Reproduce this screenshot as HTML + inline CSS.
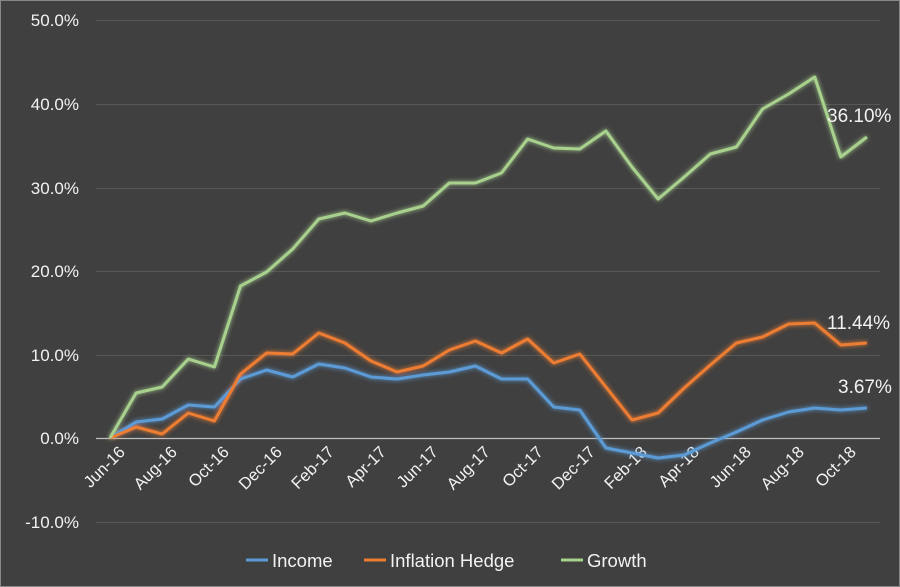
<!DOCTYPE html>
<html><head><meta charset="utf-8"><style>
html,body{margin:0;padding:0;background:#404040;}
svg{display:block;font-family:"Liberation Sans",sans-serif;}
</style></head><body>
<svg width="900" height="587" viewBox="0 0 900 587" xmlns="http://www.w3.org/2000/svg">
<defs>
<filter id="g" x="-5%" y="-10%" width="110%" height="120%"><feGaussianBlur stdDeviation="2.5" in="SourceGraphic" result="b"/><feMerge><feMergeNode in="b"/><feMergeNode in="SourceGraphic"/></feMerge></filter>
</defs>
<rect x="0" y="0" width="900" height="587" fill="#404040"/>
<rect x="0.5" y="0.5" width="899" height="586" fill="none" stroke="#888" stroke-width="1"/>
<g stroke="#575757" stroke-width="1">
<line x1="96" y1="20.5" x2="880" y2="20.5"/>
<line x1="96" y1="104.5" x2="880" y2="104.5"/>
<line x1="96" y1="188.5" x2="880" y2="188.5"/>
<line x1="96" y1="271.5" x2="880" y2="271.5"/>
<line x1="96" y1="355.5" x2="880" y2="355.5"/>
<line x1="96" y1="522.5" x2="880" y2="522.5"/>
</g>
<line x1="96" y1="438.5" x2="880" y2="438.5" stroke="#bfbfbf" stroke-width="1.3"/>
<g fill="#f2f2f2" font-size="17" text-anchor="end">
<text x="79" y="26">50.0%</text>
<text x="79" y="110">40.0%</text>
<text x="79" y="194">30.0%</text>
<text x="79" y="277">20.0%</text>
<text x="79" y="361">10.0%</text>
<text x="79" y="444">0.0%</text>
<text x="79" y="528">-10.0%</text>
</g>
<g fill="#f2f2f2" font-size="16.5" text-anchor="end">
<text transform="translate(126,453) rotate(-45)">Jun-16</text>
<text transform="translate(178,453) rotate(-45)">Aug-16</text>
<text transform="translate(230,453) rotate(-45)">Oct-16</text>
<text transform="translate(283,453) rotate(-45)">Dec-16</text>
<text transform="translate(335,453) rotate(-45)">Feb-17</text>
<text transform="translate(387,453) rotate(-45)">Apr-17</text>
<text transform="translate(439,453) rotate(-45)">Jun-17</text>
<text transform="translate(491,453) rotate(-45)">Aug-17</text>
<text transform="translate(544,453) rotate(-45)">Oct-17</text>
<text transform="translate(596,453) rotate(-45)">Dec-17</text>
<text transform="translate(648,453) rotate(-45)">Feb-18</text>
<text transform="translate(700,453) rotate(-45)">Apr-18</text>
<text transform="translate(752,453) rotate(-45)">Jun-18</text>
<text transform="translate(805,453) rotate(-45)">Aug-18</text>
<text transform="translate(857,453) rotate(-45)">Oct-18</text>
</g>
<g fill="none" stroke-width="3" stroke-linejoin="round" filter="url(#g)">
<polyline stroke="#5b9bd5" points="110,438 136.1,422 162.2,419 188.3,405 214.4,407 240.5,379 266.6,370 292.7,377 318.8,364 344.9,368 371,377 397.1,379 423.2,375 449.3,372 475.4,366 501.5,379 527.6,379 553.7,407 579.8,410 605.9,448 632,453 658.1,458 684.2,455 710.3,443 736.4,432 762.5,420 788.6,412 814.7,408 840.8,410 866.9,408"/>
<polyline stroke="#ed7d31" points="110,438 136.1,427 162.2,434 188.3,413 214.4,421 240.5,374 266.6,353 292.7,354 318.8,333 344.9,343 371,361 397.1,372 423.2,366 449.3,350 475.4,341 501.5,353 527.6,339 553.7,363 579.8,354 605.9,387 632,420 658.1,413 684.2,388 710.3,365 736.4,343 762.5,337 788.6,324 814.7,323 840.8,345 866.9,343"/>
<polyline stroke="#a9d18e" points="110,438 136.1,393 162.2,387 188.3,359 214.4,367 240.5,286 266.6,272 292.7,249 318.8,219 344.9,213 371,221 397.1,213 423.2,206 449.3,183 475.4,183 501.5,173 527.6,139 553.7,148 579.8,149 605.9,131 632,167 658.1,199 684.2,177 710.3,154 736.4,147 762.5,109 788.6,94 814.7,77 840.8,157 866.9,137"/>
</g>
<g fill="#f2f2f2" font-size="19">
<text x="827" y="122">36.10%</text>
<text x="827" y="329">11.44%</text>
<text x="838" y="393">3.67%</text>
</g>
<g font-size="18.5" fill="#f2f2f2">
<line x1="246" y1="560" x2="268" y2="560" stroke="#5b9bd5" stroke-width="3"/>
<text x="272" y="567">Income</text>
<line x1="364" y1="560" x2="386" y2="560" stroke="#ed7d31" stroke-width="3"/>
<text x="390" y="567">Inflation Hedge</text>
<line x1="561" y1="560" x2="583" y2="560" stroke="#a9d18e" stroke-width="3"/>
<text x="587" y="567">Growth</text>
</g>
</svg>
</body></html>
